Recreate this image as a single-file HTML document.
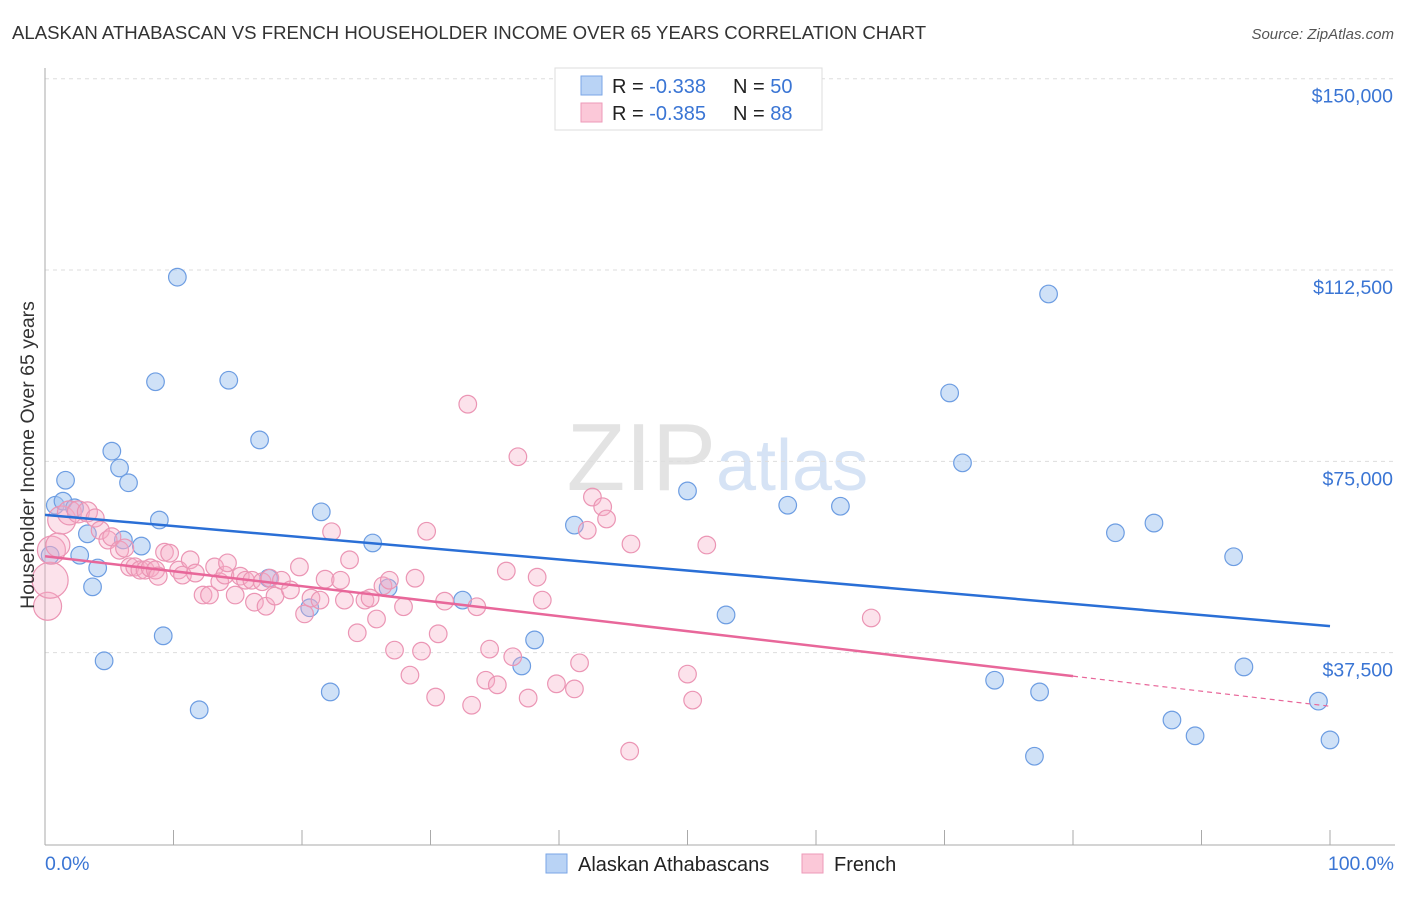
<!DOCTYPE html>
<html><head><meta charset="utf-8"><style>
body{margin:0;background:#fff;font-family:"Liberation Sans",sans-serif}
svg text{font-family:"Liberation Sans",sans-serif}
</style></head><body>
<svg id="c" width="1406" height="892">
<text x="12" y="39" font-size="18.6" fill="#333">ALASKAN ATHABASCAN VS FRENCH HOUSEHOLDER INCOME OVER 65 YEARS CORRELATION CHART</text>
<text x="1394" y="39" font-size="15" fill="#555" text-anchor="end" font-style="italic">Source: ZipAtlas.com</text>
<text x="716" y="490" font-size="96" fill="#e3e3e3" text-anchor="end" font-family="Liberation Serif">ZIP</text>
<text x="716" y="490" font-size="72" fill="#d6e3f5">atlas</text>
<g id="grid"></g><g id="axes"></g><g id="pts"></g><g id="lines"></g>
<text transform="translate(34,455) rotate(-90)" font-size="19.5" fill="#333" text-anchor="middle">Householder Income Over 65 years</text>
<text x="45" y="870" font-size="19.5" fill="#3a75d4">0.0%</text>
<text x="1394" y="870" font-size="19.5" fill="#3a75d4" text-anchor="end">100.0%</text>
<g>
<rect x="555" y="68" width="267" height="62" fill="#fff" stroke="#ddd"/>
<rect x="581" y="76" width="21" height="19" fill="#b9d3f5" stroke="#7aa6e6"/>
<rect x="581" y="103" width="21" height="19" fill="#fbc8d8" stroke="#ee9ab8"/>
<text x="612" y="93" font-size="20" fill="#222">R = <tspan fill="#3a75d4">-0.338</tspan><tspan x="733">N = </tspan><tspan fill="#3a75d4">50</tspan></text>
<text x="612" y="120" font-size="20" fill="#222">R = <tspan fill="#3a75d4">-0.385</tspan><tspan x="733">N = </tspan><tspan fill="#3a75d4"> 88</tspan></text>
</g>
<g>
<rect x="546" y="854" width="21" height="19" fill="#b9d3f5" stroke="#7aa6e6"/>
<text x="578" y="871" font-size="20" fill="#222">Alaskan Athabascans</text>
<rect x="802" y="854" width="21" height="19" fill="#fbc8d8" stroke="#ee9ab8"/>
<text x="834" y="871" font-size="20" fill="#222">French</text>
</g>
</svg>
<script>
const yTicks=[37500,75000,112500,150000];
const yTickLabels=["$37,500","$75,000","$112,500","$150,000"];
const xTicks=[0,10,20,30,40,50,60,70,80,90,100];
const blueX=[0.4,0.8,1.4,1.6,2.3,2.7,3.3,4.1,3.7,4.6,5.2,5.8,6.1,6.5,7.5,8.6,8.9,9.2,10.3,12.0,14.3,16.7,17.4,20.6,21.5,22.2,25.5,26.7,32.5,37.1,38.1,41.2,50.0,53.0,57.8,61.9,70.4,71.4,73.9,77.4,78.1,77.0,83.3,86.3,87.7,89.5,92.5,93.3,99.1,100];
const blueY=[56.6,66.4,67.2,71.3,65.9,56.6,60.8,54.1,50.4,35.9,77.0,73.7,59.6,70.8,58.4,90.6,63.5,40.8,111.1,26.3,90.9,79.2,52.1,46.3,65.1,29.8,59.0,50.2,47.8,34.9,40.0,62.5,69.2,44.9,66.4,66.2,88.4,74.7,32.1,29.8,107.8,17.2,61.0,62.9,24.3,21.2,56.3,34.7,28.0,20.4];
const pinkX=[0.2,0.4,0.5,1.0,1.3,1.9,2.6,3.3,3.9,4.3,4.9,5.2,5.8,6.2,6.6,7.0,7.4,7.8,8.2,8.6,8.8,9.3,9.7,10.4,10.7,11.3,11.7,12.3,12.8,13.2,13.6,14.0,14.2,14.8,15.2,15.6,16.1,16.3,16.9,17.2,17.5,17.9,18.4,19.1,19.8,20.2,20.7,21.4,21.8,22.3,23.0,23.3,23.7,24.3,24.9,25.3,25.8,26.3,26.8,27.2,27.9,28.4,28.8,29.3,29.7,30.4,30.6,31.1,32.9,33.2,33.6,34.3,34.6,35.2,35.9,36.4,36.8,37.6,38.3,38.7,39.8,41.2,41.6,42.2,42.6,43.4,43.7,45.5,45.6,50.0,50.4,51.5,64.3];
const pinkY=[46.6,51.7,57.6,58.6,63.5,64.9,65.1,65.1,63.9,61.5,59.6,60.2,57.6,58.0,54.3,54.3,53.7,53.7,54.1,53.7,52.5,57.2,57.0,53.7,52.7,55.7,53.1,48.8,48.8,54.3,51.4,52.7,55.1,48.8,52.5,51.7,51.7,47.4,51.4,46.6,52.1,48.6,51.7,49.8,54.3,45.1,48.2,47.8,51.9,61.2,51.7,47.8,55.7,41.4,47.8,48.2,44.1,50.6,51.7,38.0,46.5,33.1,52.1,37.8,61.3,28.8,41.2,47.6,86.2,27.2,46.5,32.1,38.2,31.2,53.5,36.7,75.9,28.6,52.3,47.8,31.4,30.4,35.5,61.5,68.0,66.1,63.7,18.2,58.8,33.3,28.2,58.6,44.3];
const pinkR=[14,18,14,12,14,12,11,10,9,9,9,9,9,9,9,9,9,9,9,9,9];
const blueTrend=[[0,64.5],[100,42.7]];
const pinkTrend=[[0,56.4],[80,32.9],[100,27.0]];
const X=v=>45+v*12.85, Y=v=>844-v*1000/196.0;
const NS='http://www.w3.org/2000/svg';
function mk(t,a,p){const e=document.createElementNS(NS,t);for(const k in a)e.setAttribute(k,a[k]);document.getElementById(p).appendChild(e);return e;}
yTicks.forEach((t,i)=>{
 const l=mk('line',{x1:45,x2:1395,y1:Y(t/1000),y2:Y(t/1000),stroke:'#ddd','stroke-dasharray':'4,4'},'grid');
 
 
 const tx=mk('text',{x:1393,y:Y(t/1000)+24,'font-size':19.5,fill:'#3a75d4','text-anchor':'end'},'grid');
 tx.textContent=yTickLabels[i];
 
 
});
let a=mk('line',{x1:45,x2:45,y1:68,y2:845,stroke:'#aaa'},'axes');


a=mk('line',{x1:45,x2:1395,y1:845,y2:845,stroke:'#aaa'},'axes');


xTicks.forEach(t=>{const k=mk('line',{x1:X(t),x2:X(t),y1:830,y2:845,stroke:'#aaa'},'axes');
 
 });
blueX.forEach((x,i)=>{const c=mk('circle',{cx:X(x),cy:Y(blueY[i]),r:8.8,fill:'rgba(160,196,240,0.5)',stroke:'#6d9de2','stroke-width':1.2},'pts');
 
 });
pinkX.forEach((x,i)=>{const c=mk('circle',{cx:X(x),cy:Y(pinkY[i]),r:pinkR[i]||8.8,fill:'rgba(246,172,197,0.35)',stroke:'#eb95b4','stroke-width':1.2},'pts');
 
 });
let ln=mk('line',{x1:X(blueTrend[0][0]),y1:Y(blueTrend[0][1]),x2:X(blueTrend[1][0]),y2:Y(blueTrend[1][1]),stroke:'#2a6fd6','stroke-width':2.5},'lines');


ln=mk('line',{x1:X(pinkTrend[0][0]),y1:Y(pinkTrend[0][1]),x2:X(pinkTrend[1][0]),y2:Y(pinkTrend[1][1]),stroke:'#e8679a','stroke-width':2.5},'lines');


ln=mk('line',{x1:X(pinkTrend[1][0]),y1:Y(pinkTrend[1][1]),x2:X(pinkTrend[2][0]),y2:Y(pinkTrend[2][1]),stroke:'#e8679a','stroke-width':1.2,'stroke-dasharray':'5,4'},'lines');


</script>
</body></html>
